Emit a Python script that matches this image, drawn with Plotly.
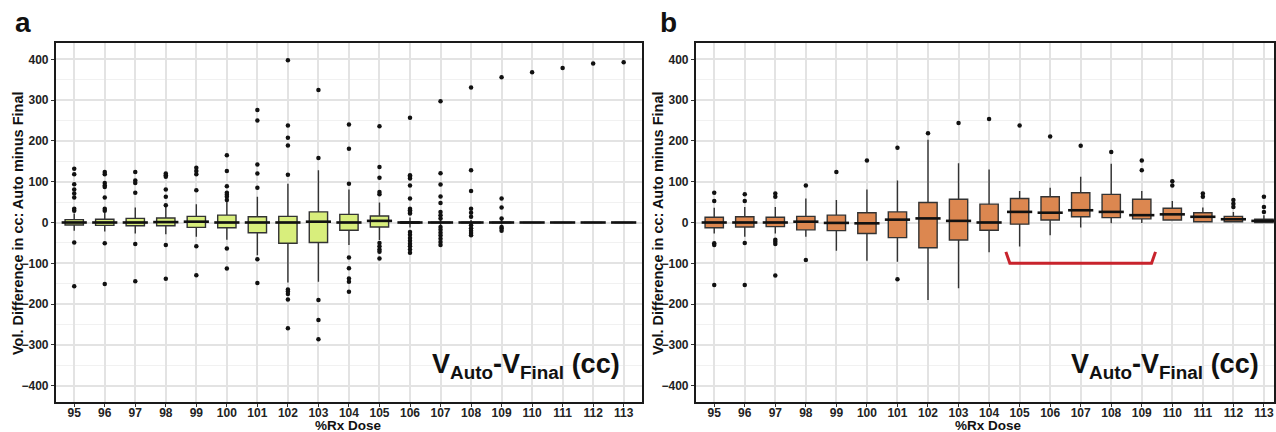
import plotly.graph_objects as go

doses = list(range(95, 114))
tick_labels = [str(d) for d in doses]

# panel a: box stats per dose
a_q1 = [-6, -7, -8, -8, -12, -13, -25, -51, -49, -19, -11, -2, -1, -1, -1, 0, 0, 0, 0]
a_med = [0, 0, 0, 1, 2, 0, 0, 0, 2, 0, 4, 0, 0, 0, 0, 0, 0, 0, 0]
a_q3 = [7, 8, 10, 11, 15, 18, 14, 15, 26, 20, 16, 2, 1, 1, 1, 0, 0, 0, 0]
a_lo = [-20, -22, -27, -29, -35, -42, -80, -147, -145, -55, -43, -12, -8, -6, -5, -2, 0, 0, 0]
a_hi = [22, 24, 37, 38, 45, 50, 63, 95, 128, 81, 49, 12, 8, 6, 6, 2, 0, 0, 0]
a_out = [
    [132, 118, 94, 81, 71, 61, 34, 29, -49, -156],
    [124, 118, 97, 91, 87, 61, 34, 29, -51, -151],
    [124, 103, 97, 73, -53, -144],
    [120, 116, 112, 81, 63, 42, -55, -138],
    [134, 126, 118, 79, -58, -129],
    [165, 126, 89, 73, 68, 63, 55, -64, -113],
    [276, 250, 142, 120, 85, -90, -148],
    [398, 238, 208, 189, 117, -164, -169, -175, -189, -259],
    [325, 158, -190, -239, -286],
    [240, 181, 95, -86, -112, -137, -145, -170],
    [236, 136, 110, 75, 69, -50, -58, -66, -72, -88],
    [257, 116, 112, 108, 91, 59, 34, 30, 26, 22, -23, -30, -38, -45, -52, -58, -66, -74],
    [297, 121, 93, 64, 48, 26, 18, 10, -11, -18, -25, -32, -40, -48, -55],
    [331, 128, 77, 34, 24, 14, -7, -14, -20, -26, -31],
    [356, 59, 37, 10, -11, -15, -20],
    [368],
    [379],
    [390],
    [393],
]

# panel b
b_q1 = [-13, -11, -10, -18, -20, -27, -37, -62, -43, -19, -4, 6, 14, 12, 9, 6, 2, 2, 0]
b_med = [0, 0, 0, 2, -1, -2, 7, 10, 4, 0, 26, 24, 30, 26, 18, 20, 14, 8, 4]
b_q3 = [13, 14, 13, 15, 18, 24, 26, 49, 57, 45, 59, 63, 73, 69, 57, 35, 24, 15, 8]
b_lo = [-27, -35, -27, -35, -69, -94, -96, -190, -161, -73, -59, -31, -12, -2, -1, 4, 0, 0, 0]
b_hi = [36, 38, 38, 59, 55, 81, 103, 203, 145, 130, 77, 85, 112, 144, 77, 53, 37, 26, 18]
b_out = [
    [73, 53, -51, -55, -153],
    [69, 53, -50, -153],
    [71, 63, -42, -47, -53, -130],
    [91, -92],
    [124],
    [152],
    [183, -139],
    [219],
    [244],
    [254],
    [238],
    [211],
    [188],
    [173],
    [152, 128],
    [101, 91],
    [71, 63],
    [55, 46, 38],
    [63, 38, 26],
]

# red bracket under 105-109 in panel b
bracket_x = [104.55, 104.68, 109.32, 109.45]
bracket_y = [-72, -100, -100, -72]

fig = go.Figure()

def add_panel(q1, med, q3, lo, hi, out, fill, xa, ya):
    fig.add_trace(go.Box(x=doses, q1=q1, median=med, q3=q3, lowerfence=lo, upperfence=hi,
                         width=0.6, fillcolor=fill, line=dict(color='#333333', width=1.4),
                         whiskerwidth=0, boxpoints=False, xaxis=xa, yaxis=ya, hoverinfo='skip'))
    fig.add_trace(go.Scatter(x=doses, y=med, mode='markers', xaxis=xa, yaxis=ya,
                             marker=dict(symbol='line-ew', size=18,
                                         line=dict(width=2.6, color='#111111')),
                             hoverinfo='skip'))
    ox, oy = [], []
    for d, vals in zip(doses, out):
        ox += [d] * len(vals)
        oy += vals
    fig.add_trace(go.Scatter(x=ox, y=oy, mode='markers', xaxis=xa, yaxis=ya,
                             marker=dict(size=4.5, color='#111111'), hoverinfo='skip'))

add_panel(a_q1, a_med, a_q3, a_lo, a_hi, a_out, '#d8ee7c', 'x', 'y')
add_panel(b_q1, b_med, b_q3, b_lo, b_hi, b_out, '#dc8750', 'x2', 'y2')

fig.add_trace(go.Scatter(x=bracket_x, y=bracket_y, mode='lines', xaxis='x2', yaxis='y2',
                         line=dict(color='#c8232c', width=3), hoverinfo='skip'))

# body margin is removed in the page, so page pixels == figure pixels
W, H = 1276, 432
def px(x):
    return x / W
def py(y):
    return 1 - y / H

tickfont = dict(family='Liberation Sans, Arial', size=12, color='#222222', weight='bold')

xcommon = dict(tickvals=doses, ticktext=tick_labels, showgrid=True, gridcolor='#e3e3e3',
               gridwidth=1.5, zeroline=False, showline=True, linecolor='#1a1a1a', linewidth=2,
               mirror=True, ticks='outside', ticklen=3, tickcolor='#333333', tickfont=tickfont,
               ticklabelstandoff=-4, ticklabeloverflow='allow')
ycommon = dict(range=[-440, 440], tickvals=[-400, -300, -200, -100, 0, 100, 200, 300, 400],
               showgrid=True, gridcolor='#e3e3e3', gridwidth=1.5, zeroline=False,
               minor=dict(dtick=50, tick0=0, showgrid=True, gridcolor='#f1f1f1', gridwidth=1),
               showline=True, linecolor='#1a1a1a', linewidth=2, mirror=True,
               ticks='outside', ticklen=3, tickcolor='#333333', tickfont=tickfont)

ydom = [py(402), py(43)]
fig.update_layout(
    width=W, height=H, margin=dict(l=0, r=0, t=0, b=0),
    paper_bgcolor='white', plot_bgcolor='white', showlegend=False,
    xaxis=dict(domain=[px(56), px(643)], range=[94.4, 113.6], anchor='y', **xcommon),
    yaxis=dict(domain=ydom, anchor='x', **ycommon),
    xaxis2=dict(domain=[px(697), 1.0], range=[94.4, 113.33], anchor='y2', **xcommon),
    yaxis2=dict(domain=ydom, anchor='x2', **ycommon),
)

bold = dict(family='Liberation Sans, Arial', color='#111111', weight='bold')
ann = []
for lab, lx, ytx, xt, vx in [('a', 23, 18, 349.5, 623), ('b', 670, 659, 990, 1263)]:
    ann.append(dict(text=lab, x=px(lx), y=py(23), xref='paper', yref='paper',
                    xanchor='center', yanchor='middle',
                    showarrow=False, font=dict(size=28, **bold)))
    ann.append(dict(text='Vol. Difference in cc: Auto minus Final', x=px(ytx), y=py(223),
                    xref='paper', yref='paper', showarrow=False, textangle=-90,
                    xanchor='center', yanchor='middle',
                    font=dict(size=14.5, **bold)))
    ann.append(dict(text='%Rx Dose', x=px(xt), y=py(425), xref='paper', yref='paper',
                    xanchor='center', yanchor='middle',
                    showarrow=False, font=dict(size=13.5, **bold)))
    ann.append(dict(text='V<sub>Auto</sub>-V<sub>Final</sub> (cc)', x=px(vx), y=py(366),
                    xref='paper', yref='paper', xanchor='right', yanchor='middle',
                    showarrow=False, font=dict(size=27, **bold)))
fig.update_layout(annotations=ann)

fig.write_html("out.html", config={'displayModeBar': False},
               post_script="document.body.style.margin='0';")
